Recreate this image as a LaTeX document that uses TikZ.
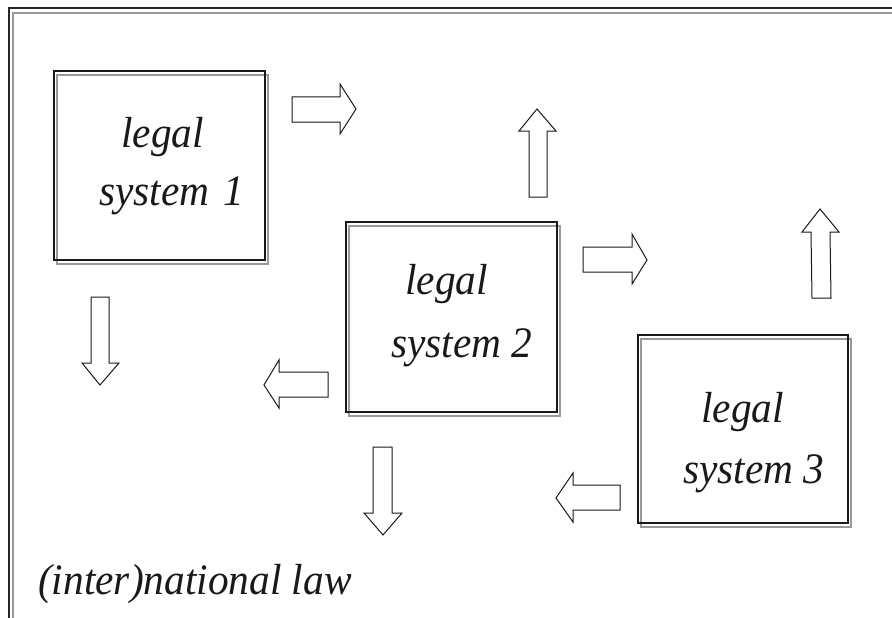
\documentclass[tikz,border=0pt]{standalone}
\usepackage{graphicx}
\usepackage{fontspec}
\setmainfont{Liberation Serif}
% slightly condensed tall italic lettering
\newcommand\tallitalic[1]{\scalebox{0.95}[1]{\fontsize{43.5}{43.5}\selectfont\itshape #1}}
\begin{document}
\begin{tikzpicture}[x=1pt,y=-1pt,
  frameout/.style={draw=black!85,line width=2pt},
  frameshade/.style={draw=black!40,line width=1.6pt},
  sysbox/.style={draw=black!90,line width=1.4pt,outer sep=0pt,inner sep=0pt},
  sysshade/.style={draw=black!40,line width=1.4pt},
  blockarrow/.style={draw=black!90,line width=1pt,fill=white,line join=miter},
  label/.style={inner sep=0pt,anchor=base west,text=black!90}]
\useasboundingbox (0,0) rectangle (892,618);
\fill[white] (0,0) rectangle (892,618);

% page frame (top and left edges with a light inner rule)
\draw[frameout] (8.5,618) -- (8.5,8.5) -- (892,8.5);
\draw[frameshade] (13,618) -- (13,13) -- (892,13);

% the three legal systems, each with a grey offset outline
\node[sysbox, minimum width=211pt, minimum height=189pt] (sys1) at (159.5,165.5) {};
\node[sysbox, minimum width=211pt, minimum height=190pt] (sys2) at (451.5,317) {};
\node[sysbox, minimum width=210pt, minimum height=188pt] (sys3) at (743,429) {};
\foreach \b in {sys1,sys2,sys3}
  \draw[sysshade] ([shift={(3,4)}]\b.north west) rectangle ([shift={(3,4)}]\b.south east);
\foreach \b in {sys1,sys2,sys3}
  \draw[sysbox] (\b.north west) rectangle (\b.south east);

% box labels
\node[label] (l1a) at (121,147) {\tallitalic{legal}};
\node[label] (l1b) at (99,205) {\tallitalic{system\hspace{0.35em}1}};
\node[label] (l2a) at (405,294) {\tallitalic{legal}};
\node[label] (l2b) at (391,357) {\tallitalic{system 2}};
\node[label] (l3a) at (701,422) {\tallitalic{legal}};
\node[label] (l3b) at (683,483) {\tallitalic{system 3}};
\node[label] (law) at (38,594) {\tallitalic{(inter)national law}};

% block arrows
\draw[blockarrow] (292,97) -- (340,97) -- (340,84) -- (356,109) -- (340,134) -- (340,122) -- (292,122) -- cycle;
\draw[blockarrow] (529,197) -- (529,131) -- (519,131) -- (537,109) -- (556,131) -- (547,131) -- (547,197) -- cycle;
\draw[blockarrow] (583,247) -- (632,247) -- (632,234) -- (647,260) -- (632,284) -- (632,272) -- (583,272) -- cycle;
\draw[blockarrow] (812,298) -- (811,232) -- (802,232) -- (820,209) -- (839,232) -- (830,232) -- (831,298) -- cycle;
\draw[blockarrow] (91,297) -- (109,297) -- (109,363) -- (119,363) -- (100,385) -- (82,363) -- (91,363) -- cycle;
\draw[blockarrow] (328,372) -- (279,372) -- (279,360) -- (264,385) -- (279,408) -- (279,397) -- (328,397) -- cycle;
\draw[blockarrow] (373,447) -- (392,447) -- (392,513) -- (402,513) -- (383,535) -- (364,513) -- (373,513) -- cycle;
\draw[blockarrow] (620,485) -- (573,485) -- (573,473) -- (556,498) -- (573,522) -- (573,510) -- (620,510) -- cycle;
\end{tikzpicture}
\end{document}
